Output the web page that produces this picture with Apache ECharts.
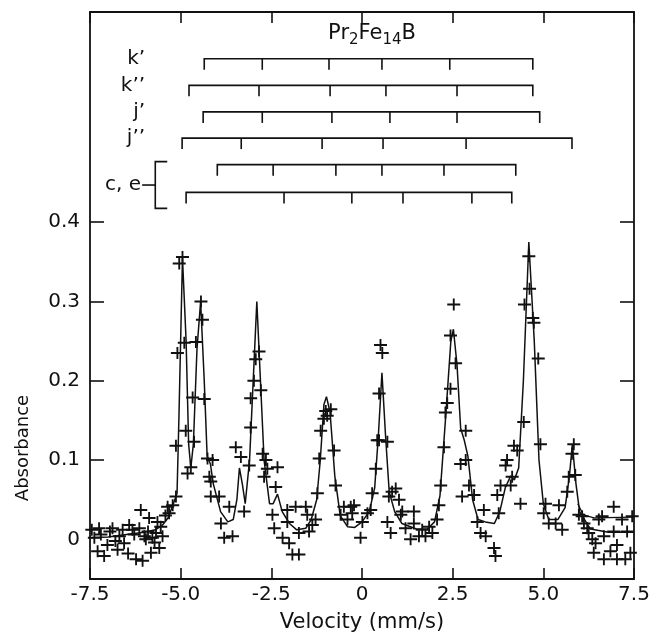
<!doctype html>
<html><head><meta charset="utf-8" />
<style>
  html,body,#app{margin:0;padding:0;width:668px;height:638px;background:#ffffff}
</style>
<script src="https://cdn.jsdelivr.net/npm/echarts@6.0.0/dist/echarts.min.js"></script>
</head><body><div id="app"></div>
<script>
// fit curve (velocity mm/s, absorbance)
const fitCurve = [
  [-7.5,0.002],[-7.0,0.003],[-6.5,0.006],[-6.0,0.009],[-5.7,0.012],[-5.5,0.018],[-5.35,0.027],[-5.2,0.045],
  [-5.1,0.058],[-5.05,0.15],[-4.95,0.355],[-4.85,0.25],[-4.78,0.12],[-4.72,0.09],[-4.65,0.12],[-4.55,0.24],
  [-4.45,0.30],[-4.35,0.2],[-4.27,0.105],[-4.18,0.095],[-4.1,0.07],[-3.9,0.035],[-3.7,0.022],[-3.55,0.025],
  [-3.45,0.05],[-3.38,0.09],[-3.3,0.07],[-3.22,0.045],[-3.1,0.1],[-3.0,0.2],[-2.9,0.3],[-2.8,0.2],[-2.7,0.1],
  [-2.55,0.045],[-2.45,0.045],[-2.33,0.057],[-2.2,0.035],[-2.0,0.02],[-1.8,0.012],[-1.55,0.014],[-1.4,0.025],
  [-1.25,0.05],[-1.15,0.1],[-1.05,0.17],[-0.98,0.18],[-0.88,0.16],[-0.75,0.08],[-0.6,0.03],[-0.4,0.016],
  [-0.2,0.015],[0.0,0.022],[0.2,0.035],[0.35,0.065],[0.45,0.13],[0.55,0.21],[0.65,0.13],[0.75,0.06],[0.9,0.035],
  [1.1,0.02],[1.5,0.013],[1.8,0.013],[2.0,0.022],[2.15,0.055],[2.3,0.15],[2.45,0.25],[2.52,0.265],[2.62,0.22],
  [2.72,0.14],[2.82,0.125],[2.92,0.105],[3.05,0.05],[3.2,0.025],[3.4,0.022],[3.65,0.02],[3.8,0.035],[3.95,0.065],
  [4.1,0.08],[4.2,0.075],[4.32,0.09],[4.45,0.2],[4.6,0.375],[4.75,0.25],[4.88,0.1],[5.0,0.045],[5.15,0.025],
  [5.4,0.025],[5.6,0.04],[5.72,0.08],[5.8,0.12],[5.9,0.07],[6.0,0.035],[6.3,0.013],[6.8,0.009],[7.5,0.009]
];
const fitCurveUpper = [[5.95,0.045],[6.1,0.031],[6.4,0.027],[7.5,0.028]];

// measured points
const measured = [
  [-7.45,0.012],[-7.38,0.002],[-7.25,0.014],[-7.29,-0.015],[-7.2,0.006],[-7.11,-0.021],[-7.02,-0.007],[-6.95,0.010],
  [-6.88,0.014],[-6.8,-0.002],[-6.74,-0.013],[-6.69,0.004],[-6.6,0.012],[-6.56,-0.005],[-6.45,-0.018],[-6.42,0.018],
  [-6.33,0.012],[-6.28,0.006],[-6.23,-0.025],[-6.14,0.014],[-6.10,0.037],[-6.05,-0.027],[-6.00,0.004],[-5.96,0.000],
  [-5.9,0.010],[-5.87,0.027],[-5.82,-0.017],[-5.78,0.002],[-5.72,-0.004],[-5.68,0.008],[-5.64,0.022],[-5.59,-0.011],
  [-5.55,0.016],[-5.50,0.004],[-5.42,0.030],[-5.36,0.041],[-5.32,0.033],[-5.22,0.043],[-5.13,0.054],
  [-5.13,0.118],[-5.09,0.235],[-5.04,0.348],[-4.95,0.356],[-4.90,0.248],[-4.86,0.137],[-4.81,0.083],[-4.72,0.091],
  [-4.67,0.179],[-4.63,0.123],[-4.58,0.249],[-4.44,0.300],[-4.40,0.277],[-4.35,0.177],[-4.26,0.102],[-4.21,0.079],
  [-4.17,0.073],[-4.17,0.054],[-4.12,0.100],[-3.94,0.054],[-3.89,0.020],[-3.80,0.002],[-3.66,0.041],[-3.57,0.004],
  [-3.48,0.116],[-3.34,0.104],[-3.25,0.035],[-3.11,0.093],[-3.07,0.141],[-3.07,0.178],[-2.98,0.200],[-2.93,0.227],
  [-2.84,0.237],[-2.79,0.188],[-2.74,0.108],[-2.70,0.079],[-2.65,0.100],[-2.61,0.089],[-2.47,0.031],[-2.42,0.014],
  [-2.38,0.066],[-2.33,0.091],[-2.19,0.002],[-2.06,0.037],[-2.06,0.022],[-2.01,-0.005],[-1.92,-0.019],[-1.83,0.041],
  [-1.74,0.008],[-1.74,-0.019],[-1.55,0.041],[-1.51,0.031],[-1.46,0.010],[-1.37,0.018],[-1.28,0.025],[-1.23,0.058],
  [-1.18,0.102],[-1.14,0.137],[-1.05,0.152],[-1.00,0.162],[-0.96,0.156],[-0.86,0.164],[-0.77,0.112],[-0.73,0.068],
  [-0.59,0.031],[-0.50,0.041],[-0.40,0.025],[-0.31,0.041],[-0.27,0.033],[-0.22,0.043],[-0.04,0.002],[0.01,0.022],
  [0.15,0.033],[0.24,0.037],[0.28,0.058],[0.38,0.089],[0.42,0.125],[0.47,0.184],[0.51,0.245],[0.56,0.235],
  [0.47,0.125],[0.70,0.123],[0.74,0.054],[0.83,0.060],[0.93,0.064],[0.70,0.022],[0.79,0.008],[1.02,0.050],
  [1.11,0.035],[1.07,0.031],[1.20,0.014],[1.34,0.000],[1.43,0.035],[1.43,0.020],[1.57,0.004],[1.66,0.012],
  [1.75,0.004],[1.85,0.016],[1.94,0.008],[2.07,0.025],[2.12,0.043],[2.17,0.068],[2.26,0.116],[2.30,0.160],
  [2.35,0.172],[2.44,0.190],[2.44,0.257],[2.53,0.296],[2.58,0.222],[2.72,0.095],[2.76,0.054],[2.86,0.137],
  [2.86,0.100],[2.95,0.068],[3.09,0.056],[3.18,0.022],[3.27,0.008],[3.36,0.037],[3.41,0.004],[3.64,-0.011],
  [3.68,-0.021],[3.73,0.056],[3.77,0.033],[3.82,0.068],[3.96,0.093],[4.00,0.100],[4.10,0.068],[4.14,0.079],
  [4.19,0.118],[4.28,0.112],[4.37,0.045],[4.46,0.148],[4.48,0.296],[4.60,0.357],[4.62,0.316],[4.71,0.279],
  [4.74,0.273],[4.86,0.228],[4.92,0.120],[5.01,0.033],[5.06,0.045],[5.15,0.020],[5.34,0.020],[5.43,0.043],
  [5.52,0.012],[5.66,0.060],[5.70,0.079],[5.79,0.108],[5.84,0.120],[5.88,0.081],[5.98,0.031],[6.07,0.029],
  [6.12,0.020],[6.21,0.014],[6.25,0.008],[6.35,0.000],[6.39,-0.017],[6.44,-0.005],[6.53,0.025],[6.62,0.029],
  [6.67,0.004],[6.67,-0.025],[6.85,-0.015],[6.94,0.041],[6.94,0.010],[7.03,-0.007],[7.03,-0.025],[7.17,0.025],
  [7.26,-0.025],[7.31,0.010],[7.40,-0.017],[7.45,0.029]
];

// stick diagrams: site name, level (absorbance units), six line positions (mm/s)
const stickNames = ['k’', 'k’’', 'j’', 'j’’', 'c, e', 'c, e'];
const stickLevels = [0.606, 0.5725, 0.539, 0.506, 0.4725, 0.4375];
const stickLines = [
  [-4.35, -2.75, -0.91, 0.55, 2.42, 4.71],
  [-4.77, -2.84, -0.88, 0.66, 2.62, 4.71],
  [-4.38, -2.75, -0.83, 0.77, 2.62, 4.90],
  [-4.96, -3.33, -1.10, 0.58, 2.87, 5.79],
  [-3.99, -2.45, -0.72, 0.55, 2.26, 4.24],
  [-4.85, -2.15, -0.28, 1.13, 3.03, 4.13]
];

const yTicks = [0.1, 0.2, 0.3, 0.4];
const yLabels = [0, 0.1, 0.2, 0.3, 0.4];

const FONT = '"DejaVu Sans", "Liberation Sans", sans-serif';
const INK = '#111111';
const TICK = 11;

// group rows by site name for the labels (c, e shares one label with a bracket)
const siteGroups = [];
stickNames.forEach(function (n, i) {
  let g = siteGroups.find(function (s) { return s.name === n; });
  if (!g) { g = { name: n, levels: [] }; siteGroups.push(g); }
  g.levels.push(stickLevels[i]);
});

const chart = echarts.init(document.getElementById('app'));

const axisLineStyle = { color: INK, width: 1.8 };
const option = {
  backgroundColor: '#ffffff',
  animation: false,
  grid: { left: 90, right: 34, top: 12, bottom: 55 },
  xAxis: [
    { type: 'value', position: 'bottom', min: -7.5, max: 7.5, interval: 2.5,
      name: 'Velocity (mm/s)', nameLocation: 'middle', nameGap: 33,
      nameTextStyle: { color: INK, fontSize: 21, fontFamily: FONT },
      axisLine: { onZero: false, lineStyle: axisLineStyle },
      axisTick: { inside: true, length: TICK, lineStyle: { color: INK, width: 1.6 } },
      axisLabel: { color: INK, fontSize: 20, fontFamily: FONT, margin: 6,
        formatter: function (v) { return v === 0 ? '0' : v.toFixed(1); } },
      splitLine: { show: false } },
    { type: 'value', position: 'top', min: -7.5, max: 7.5, interval: 2.5,
      axisLine: { onZero: false, lineStyle: axisLineStyle },
      axisTick: { inside: true, length: TICK, lineStyle: { color: INK, width: 1.6 } },
      axisLabel: { show: false }, splitLine: { show: false } }
  ],
  yAxis: [
    { type: 'value', position: 'left', min: -0.05, max: 0.665,
      axisLine: { show: true, onZero: false, lineStyle: axisLineStyle },
      axisTick: { inside: true, length: 14, customValues: yTicks, lineStyle: { color: INK, width: 1.6 } },
      axisLabel: { color: INK, fontSize: 20, fontFamily: FONT, margin: 10, customValues: yLabels,
        formatter: function (v) { return v === 0 ? '0' : v.toFixed(1); } },
      splitLine: { show: false } },
    { type: 'value', position: 'right', min: -0.05, max: 0.665,
      axisLine: { show: true, onZero: false, lineStyle: axisLineStyle },
      axisTick: { inside: true, length: 14, customValues: yTicks, lineStyle: { color: INK, width: 1.6 } },
      axisLabel: { show: false }, splitLine: { show: false } }
  ],
  graphic: [
    { type: 'text', x: 23, y: 448, rotation: Math.PI / 2,
      style: { text: 'Absorbance', fill: INK, font: '18px ' + FONT, align: 'center', verticalAlign: 'middle' } },
    { type: 'text', x: 372, y: 34,
      style: { text: '{a|Pr}{s|2}{a|Fe}{s|14}{a|B}', fill: INK, align: 'center', verticalAlign: 'middle',
        rich: {
          a: { fontSize: 21, fontFamily: FONT, fill: INK, lineHeight: 24 },
          s: { fontSize: 15, fontFamily: FONT, fill: INK, lineHeight: 24, padding: [12, 0, 0, 0] }
        } } }
  ],
  series: [
    { name: 'fit', type: 'line', data: fitCurve, symbol: 'none', z: 3,
      lineStyle: { color: INK, width: 1.5 } },
    { name: 'fit2', type: 'line', data: fitCurveUpper, symbol: 'none', z: 3,
      lineStyle: { color: INK, width: 1.3 } },
    { name: 'data', type: 'scatter', data: measured, z: 4,
      symbol: 'path://M0,5H6V0H8V5H14V7H8V12H6V7H0Z', symbolSize: [13, 12],
      itemStyle: { color: INK, opacity: 1 } },
    { name: 'sticks', type: 'custom', silent: true,
      data: stickLines.map(function (p, i) { return [stickLevels[i]].concat(p); }),
      encode: { x: [1, 2, 3, 4, 5, 6], y: 0 },
      renderItem: function (params, api) {
        const level = api.value(0);
        const pts = [];
        for (let i = 1; i <= 6; i++) pts.push(api.coord([api.value(i), level]));
        const y = pts[0][1];
        const st = { stroke: INK, lineWidth: 1.6, fill: null };
        const children = [{ type: 'polyline',
          shape: { points: [[pts[0][0], y + TICK], [pts[0][0], y], [pts[5][0], y], [pts[5][0], y + TICK]] },
          style: st }];
        for (let i = 1; i < 5; i++) {
          children.push({ type: 'line', shape: { x1: pts[i][0], y1: y, x2: pts[i][0], y2: y + TICK }, style: st });
        }
        return { type: 'group', children: children };
      } },
    { name: 'sites', type: 'custom', silent: true,
      data: siteGroups.map(function (g) {
        return [Math.max.apply(null, g.levels), Math.min.apply(null, g.levels), g.levels.length];
      }),
      encode: { y: [0, 1] },
      renderItem: function (params, api) {
        const g = siteGroups[params.dataIndex];
        const top = api.coord([-5.7, api.value(0)]);
        const bot = api.coord([-5.7, api.value(1)]);
        const labelX = api.coord([-5.98, 0])[0];
        const children = [];
        if (api.value(2) > 1) {
          const bx = top[0];
          const ex = api.coord([-5.37, 0])[0];
          const y1 = top[1] - 3, y2 = bot[1] + 16;
          const mid = (y1 + y2) / 2;
          children.push({ type: 'polyline', shape: { points: [[ex, y1], [bx, y1], [bx, y2], [ex, y2]] },
            style: { stroke: INK, lineWidth: 1.6, fill: null } });
          children.push({ type: 'line', shape: { x1: labelX - 3, y1: mid, x2: bx, y2: mid },
            style: { stroke: INK, lineWidth: 1.6 } });
          children.push({ type: 'text', x: labelX - 4, y: mid,
            style: { text: g.name, fill: INK, font: '20px ' + FONT, align: 'right', verticalAlign: 'middle' } });
        } else {
          children.push({ type: 'text', x: labelX, y: top[1],
            style: { text: g.name, fill: INK, font: '20px ' + FONT, align: 'right', verticalAlign: 'middle' } });
        }
        return { type: 'group', children: children };
      } }
  ]
};
chart.setOption(option);
</script></body></html>
